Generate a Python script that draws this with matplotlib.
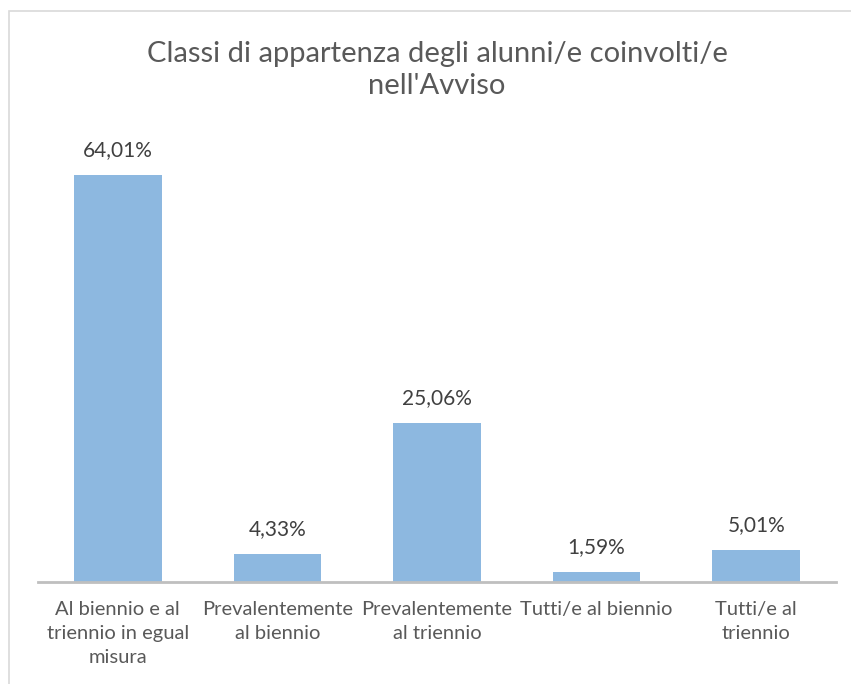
import matplotlib
matplotlib.use("Agg")
import matplotlib.pyplot as plt
from matplotlib.patches import Rectangle

categories = ["Al biennio e al\ntriennio in egual\nmisura",
              "Prevalentemente\nal biennio",
              "Prevalentemente\nal triennio",
              "Tutti/e al biennio",
              "Tutti/e al\ntriennio"]
values = [64.01, 4.33, 25.06, 1.59, 5.01]
value_labels = ["64,01%", "4,33%", "25,06%", "1,59%", "5,01%"]
title = "Classi di appartenza degli alunni/e coinvolti/e\nnell'Avviso"

plt.rcParams['font.family'] = ['Lato', 'DejaVu Sans']
W, H = 851, 684
fig = plt.figure(figsize=(W/100, H/100), dpi=100)
fig.patch.set_facecolor('white')

# chart border
fig.patches.append(Rectangle((8.5/W, -0.1), 1.2, 1.1 - 11/H, transform=fig.transFigure,
                             fill=False, edgecolor='#D9D9D9', linewidth=1.2))

ax = fig.add_axes([38/W, 1-582/H, (836-38)/W, (582-137)/H])
x = list(range(len(categories)))
ax.bar(x, values, width=0.55, color='#8DB8E0', zorder=2)
ax.set_xlim(-0.5, len(categories)-0.5)
ax.set_ylim(0, 70)
for s in ['top', 'right', 'left']:
    ax.spines[s].set_visible(False)
ax.spines['bottom'].set_color('#BFBFBF')
ax.spines['bottom'].set_linewidth(2)
ax.set_yticks([])
ax.set_xticks(x)
ax.set_xticklabels(categories, fontsize=14.5, color='#595959', linespacing=1.48)
ax.tick_params(axis='x', length=0, pad=14)
for xi, v, lab in zip(x, values, value_labels):
    ax.annotate(lab, (xi, v), xytext=(0, 18), textcoords='offset points',
                ha='center', va='center', fontsize=15, color='#404040')

fig.text(437/W, 1-70/H, title, ha='center', va='center', fontsize=21,
         color='#595959', linespacing=1.32)

fig.savefig('out.png', dpi=100, facecolor='white')
